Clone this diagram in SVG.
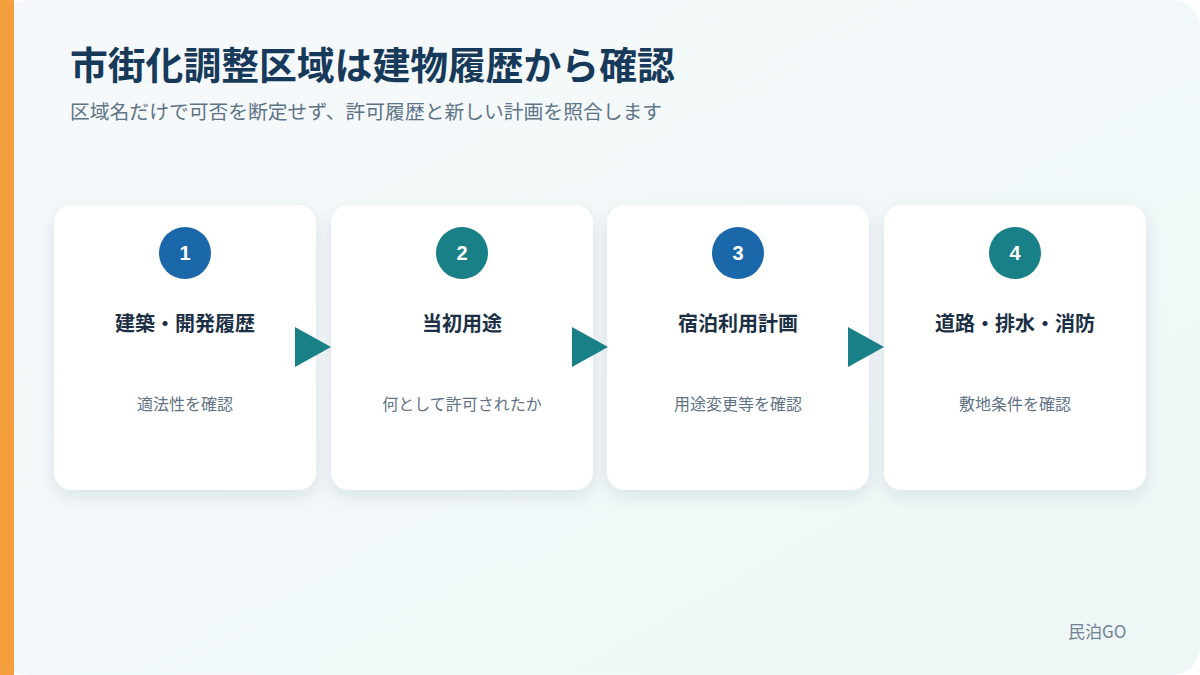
<svg xmlns="http://www.w3.org/2000/svg" width="1200" height="675" viewBox="0 0 1200 675">
<defs>
<linearGradient id="bg" x1="0" y1="0" x2="1" y2="1">
<stop offset="0" stop-color="#f6f9fb"/>
<stop offset="1" stop-color="#eef7f6"/>
</linearGradient>
<filter id="sh" x="-20%" y="-20%" width="140%" height="140%">
<feDropShadow dx="0" dy="6" stdDeviation="8" flood-color="#1f3d5a" flood-opacity="0.10"/>
</filter>
<style>
.card{fill:#ffffff;filter:url(#sh)}
.num{font-family:"Liberation Sans","Noto Sans",sans-serif;font-weight:bold;font-size:20px;fill:#ffffff;text-anchor:middle}
.ttl{font-family:"Noto Sans CJK JP",sans-serif;font-weight:bold;font-size:20px;fill:#1b2f45;text-anchor:middle}
.sub{font-family:"Noto Sans CJK JP",sans-serif;font-size:16px;fill:#5f7385;text-anchor:middle}
.arr{fill:#1a8087}
.blue{fill:#1a68aa}
.teal{fill:#1a8087}
</style>
</defs>
<rect x="0" y="0" width="1200" height="675" fill="#ffffff"/>
<rect x="0" y="0" width="1200" height="675" rx="28" fill="url(#bg)"/>
<rect x="0" y="0" width="14" height="675" fill="#f59e3d"/>
<text x="70" y="79" font-family="Noto Sans CJK JP, sans-serif" font-weight="bold" font-size="37.8" fill="#173a5a">市街化調整区域は建物履歴から確認</text>
<text x="70" y="119" font-family="Noto Sans CJK JP, sans-serif" font-size="19.8" fill="#5f7487">区域名だけで可否を断定せず、許可履歴と新しい計画を照合します</text>
<g id="node1">
<rect class="card" x="54" y="205" width="262" height="285" rx="18"/>
<circle class="blue" cx="185" cy="253" r="26"/>
<text class="num" x="185" y="260">1</text>
<text class="ttl" x="185" y="331">建築・開発履歴</text>
<text class="sub" x="185" y="410">適法性を確認</text>
</g>
<g id="node2">
<rect class="card" x="331" y="205" width="262" height="285" rx="18"/>
<circle class="teal" cx="462" cy="253" r="26"/>
<text class="num" x="462" y="260">2</text>
<text class="ttl" x="462" y="331">当初用途</text>
<text class="sub" x="462" y="410">何として許可されたか</text>
</g>
<g id="node3">
<rect class="card" x="607" y="205" width="262" height="285" rx="18"/>
<circle class="blue" cx="738" cy="253" r="26"/>
<text class="num" x="738" y="260">3</text>
<text class="ttl" x="738" y="331">宿泊利用計画</text>
<text class="sub" x="738" y="410">用途変更等を確認</text>
</g>
<g id="node4">
<rect class="card" x="884" y="205" width="262" height="285" rx="18"/>
<circle class="teal" cx="1015" cy="253" r="26"/>
<text class="num" x="1015" y="260">4</text>
<text class="ttl" x="1015" y="331">道路・排水・消防</text>
<text class="sub" x="1015" y="410">敷地条件を確認</text>
</g>
<g id="connectors">
<polygon class="arr" points="295,327 331,347 295,367"/>
<polygon class="arr" points="572,327 608,347 572,367"/>
<polygon class="arr" points="848,327 884,347 848,367"/>
</g>
<text x="1068" y="638" font-family="Noto Sans CJK JP, sans-serif" font-size="17" fill="#6f8394">民泊GO</text>
</svg>
